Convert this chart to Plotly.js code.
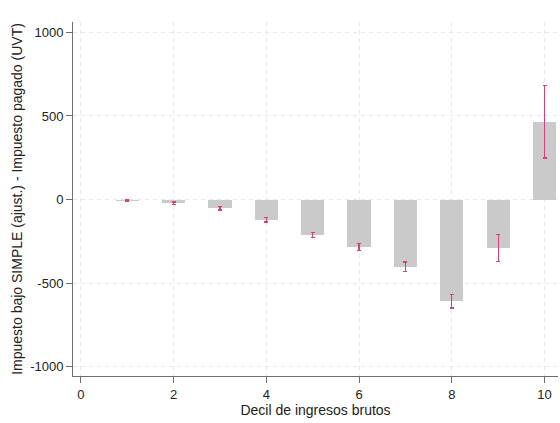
<!DOCTYPE html>
<html>
<head>
<meta charset="utf-8">
<script src="https://cdn.plot.ly/plotly-3.0.1.min.js"></script>
<style>html,body{margin:0;padding:0;background:#fff;}#chart{width:560px;height:423px;}</style>
</head>
<body>
<div id="chart"></div>
<script>
// Data
const deciles = [1, 2, 3, 4, 5, 6, 7, 8, 9, 10];
const diffUVT = [-6, -22, -52, -121, -213, -283, -403, -608, -290, 465];
const ciHalf = [3, 8, 10, 13, 15, 20, 29, 40, 82, 216];
const xTicks = [0, 2, 4, 6, 8, 10];
const yTicks = [-1000, -500, 0, 500, 1000];

const trace = {
  type: 'bar',
  x: deciles,
  y: diffUVT,
  width: 0.5,
  marker: {color: '#cacaca', line: {width: 0}},
  error_y: {type: 'data', array: ciHalf, visible: true, color: '#da3f77', thickness: 1.3, width: 2},
  hoverinfo: 'skip'
};

const axisCommon = {
  showline: true, linecolor: '#6e6e6e', linewidth: 1,
  ticks: 'outside', ticklen: 6, tickcolor: '#6e6e6e', tickwidth: 1,
  showgrid: true, gridcolor: '#e8e8e8', griddash: '4px,4px', gridwidth: 1,
  zeroline: false,
  tickfont: {family: 'Liberation Sans, Arial, sans-serif', size: 13, color: '#222'}
};

const layout = {
  width: 560, height: 423,
  margin: {l: 73, r: 2, t: 22, b: 47},
  paper_bgcolor: '#ffffff', plot_bgcolor: '#ffffff',
  showlegend: false,
  bargap: 0,
  xaxis: Object.assign({}, axisCommon, {
    range: [-0.17, 10.29], tickmode: 'array', tickvals: xTicks, ticktext: xTicks.map(String),
    title: {text: 'Decil de ingresos brutos', font: {family: 'Liberation Sans, Arial, sans-serif', size: 14, color: '#222'}, standoff: 4}
  }),
  yaxis: Object.assign({}, axisCommon, {
    range: [-1055, 1062], tickmode: 'array', tickvals: yTicks, ticktext: yTicks.map(String),
    title: {text: 'Impuesto bajo SIMPLE (ajust.) - Impuesto pagado (UVT)', font: {family: 'Liberation Sans, Arial, sans-serif', size: 14, color: '#222'}, standoff: 4}
  })
};

Plotly.newPlot('chart', [trace], layout, {displayModeBar: false, staticPlot: true});
</script>
</body>
</html>
